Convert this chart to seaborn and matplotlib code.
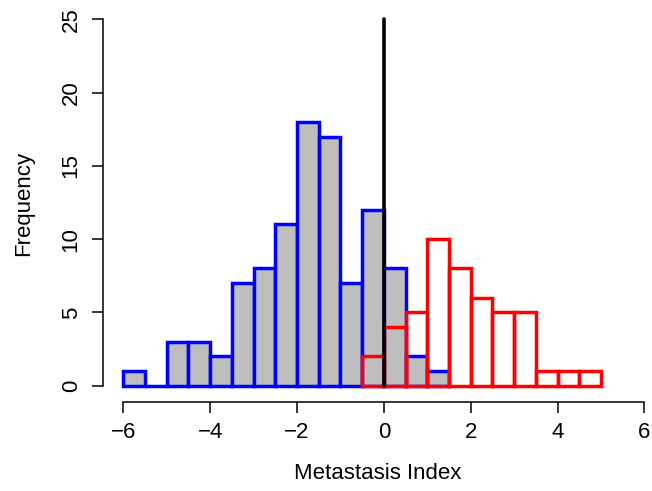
import numpy as np
import pandas as pd
import seaborn as sns
from matplotlib import pyplot as plt

# bin edges and counts
blue_edges = [-6.0, -5.5, -5.0, -4.5, -4.0, -3.5, -3.0, -2.5, -2.0, -1.5,
              -1.0, -0.5, 0.0, 0.5, 1.0, 1.5]
blue_counts = [1, 0, 3, 3, 2, 7, 8, 11, 18, 17, 7, 12, 8, 2, 1]

red_edges = [-0.5, 0.0, 0.5, 1.0, 1.5, 2.0, 2.5, 3.0, 3.5, 4.0, 4.5, 5.0]
red_counts = [2, 4, 5, 10, 8, 6, 5, 5, 1, 1, 1]

x_ticks = [-6, -4, -2, 0, 2, 4, 6]
y_ticks = [0, 5, 10, 15, 20, 25]

blue_df = pd.DataFrame({"mid": np.array(blue_edges[:-1]) + 0.25, "n": blue_counts})
red_df = pd.DataFrame({"mid": np.array(red_edges[:-1]) + 0.25, "n": red_counts})

sns.set_theme(style="ticks")
plt.rcParams['font.family'] = ['Liberation Sans', 'DejaVu Sans']
plt.rcParams['text.color'] = 'black'
plt.rcParams['axes.labelcolor'] = 'black'

fig = plt.figure(figsize=(6.52, 4.91), dpi=100)
left_px, right_px, top_px, bottom_px = 102.5, 652, 4.6, 401.5
ax = fig.add_axes([left_px / 652, 1 - bottom_px / 491,
                   (right_px - left_px) / 652, (bottom_px - top_px) / 491])

sns.histplot(data=blue_df, x="mid", weights="n", bins=blue_edges, ax=ax,
             color="#BEBEBE", edgecolor="#0000FF", linewidth=2.5, alpha=1)
sns.histplot(data=red_df, x="mid", weights="n", bins=red_edges, ax=ax,
             fill=False, color="#FF0000", linewidth=2.5)
ax.plot([0, 0], [0, 25], color="black", lw=2.6)

ax.set_xlim(-6.48, -6.48 + (right_px - left_px) / 43.42)
ax.set_ylim(-(bottom_px - 385.7) / 14.66, 26)
ax.set_xticks(x_ticks)
ax.set_yticks(y_ticks)
ax.set_xticklabels(["\u2212" + str(-t) if t < 0 else str(t) for t in x_ticks])
ax.set_yticklabels([str(t) for t in y_ticks], rotation=90, va="center")

for s in ["top", "right"]:
    ax.spines[s].set_visible(False)
ax.spines["left"].set_bounds(0, 25)
ax.spines["bottom"].set_bounds(-6, 6)
for s in ["left", "bottom"]:
    ax.spines[s].set_linewidth(1.1)
    ax.spines[s].set_color("black")
ax.tick_params(axis="both", direction="out", length=8, width=1.1,
               colors="black", labelsize=16, pad=7)

ax.set_xlabel("Metastasis Index", fontsize=16, labelpad=14)
ax.set_ylabel("Frequency", fontsize=16, labelpad=19)

fig.savefig("out.png", dpi=100)
